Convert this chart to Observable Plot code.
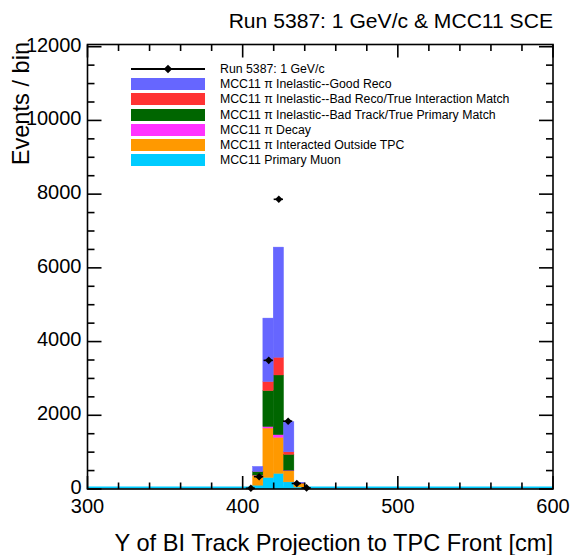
<!DOCTYPE html>
<html>
<head>
<meta charset="utf-8">
<script src="https://cdn.jsdelivr.net/npm/d3@7"></script>
<script src="https://cdn.jsdelivr.net/npm/@observablehq/plot@0.6"></script>
<style>
  html, body { margin: 0; padding: 0; background: #fff; }
  #chart { position: relative; width: 572px; height: 555px; overflow: hidden;
           font-family: "Liberation Sans", Arial, Helvetica, sans-serif; color: #000; }
  #chart svg { position: absolute; left: 0; top: 0; }
  .lbl { position: absolute; white-space: nowrap; line-height: 1; }
  .leg-row { position: absolute; left: 0; height: 12px; }
  .leg-sw { position: absolute; left: 131px; width: 74px; height: 12px; top: 0; }
  .leg-tx { position: absolute; left: 220px; top: 0; font-size: 12.3px; line-height: 12px; white-space: nowrap; }
</style>
</head>
<body>
<div id="chart"></div>
<script>
// Binning: 45 bins over 300–600 cm, only the populated ones are listed
const binLow = [400, 406.667, 413.333, 420, 426.667, 433.333];
const binWidth = 6.667;

// MC categories, stacked from the bottom up
const seriesNames = [
  "MCC11 Primary Muon",
  "MCC11 π Interacted Outside TPC",
  "MCC11 π Decay",
  "MCC11 π Inelastic--Bad Track/True Primary Match",
  "MCC11 π Inelastic--Bad Reco/True Interaction Match",
  "MCC11 π Inelastic--Good Reco"
];
const seriesColors = ["#00ccff", "#ff9900", "#ff33ff", "#006600", "#ff3333", "#6666ff"];

// Events per bin for each category
const primaryMuon   = [0,  90,  300,  410, 180, 40];
const outsideTPC    = [0, 270, 1340,  980, 300, 90];
const piDecay       = [0,   5,   40,   70,  15,  5];
const badTrack      = [0,  90,  975, 1620, 430, 10];
const badReco       = [0,   5,  245,  480,  70,  5];
const goodReco      = [0, 140, 1724, 2990, 817, 20];
const seriesValues = [primaryMuon, outsideTPC, piDecay, badTrack, badReco, goodReco];

// Run 5387 data points
const dataLabel = "Run 5387: 1 GeV/c";
const dataX = [405.3, 410.6, 416.8, 423.3, 429.3, 434.9, 441.2];
const dataY = [20, 335, 3490, 7860, 1840, 150, 30];
const dataXErr = 3;

// Axis ticks
const xMajor = [300, 400, 500, 600];
const xMinor = [320, 340, 360, 380, 420, 440, 460, 480, 520, 540, 560, 580];
const yMajor = [0, 2000, 4000, 6000, 8000, 10000, 12000];
const yMinor = [500, 1000, 1500, 2500, 3000, 3500, 4500, 5000, 5500, 6500, 7000, 7500,
                8500, 9000, 9500, 10500, 11000, 11500];

const titleText = "Run 5387: 1 GeV/c & MCC11 SCE";
const xTitle = "Y of BI Track Projection to TPC Front [cm]";
const yTitle = "Events / bin";

// Flatten into one table for the stacked histogram
const rows = [];
seriesNames.forEach((name, s) => {
  binLow.forEach((lo, i) => {
    rows.push({series: name, x1: lo, x2: lo + binWidth, v: seriesValues[s][i]});
  });
});
const points = dataX.map((x, i) => ({x, v: dataY[i]}));

// Tick marks drawn inward from the frame
const tickSym = (dx, dy) => ({draw(ctx) { ctx.moveTo(0, 0); ctx.lineTo(dx, dy); }});
const tickStyle = {stroke: "black", strokeWidth: 1.6, fill: "none"};

const plot = Plot.plot({
  width: 572,
  height: 555,
  marginLeft: 87,
  marginRight: 19.5,
  marginTop: 44,
  marginBottom: 66.5,
  style: {fontFamily: "'Liberation Sans', Arial, Helvetica, sans-serif", background: "transparent"},
  x: {domain: [300, 600]},
  y: {domain: [0, 12060]},
  color: {domain: seriesNames, range: seriesColors},
  marks: [
    Plot.ruleY([0], {stroke: seriesColors[0], strokeWidth: 2, dy: -1.5}),
    Plot.rectY(rows, {x1: "x1", x2: "x2", y: "v", fill: "series", stroke: "series",
                      strokeWidth: 0.4, order: seriesNames}),
    Plot.ruleY(points, {y: "v", x1: d => d.x - dataXErr, x2: d => d.x + dataXErr,
                        stroke: "black", strokeWidth: 1.6}),
    Plot.dot(points, {x: "x", y: "v", symbol: "diamond2", r: 3.4, fill: "black"}),
    Plot.frame({stroke: "black", strokeWidth: 1.6}),
    // bottom / top ticks
    Plot.dot(xMajor, {x: d => d, frameAnchor: "bottom", symbol: tickSym(0, -13), ...tickStyle}),
    Plot.dot(xMinor, {x: d => d, frameAnchor: "bottom", symbol: tickSym(0, -6.5), ...tickStyle}),
    Plot.dot(xMajor, {x: d => d, frameAnchor: "top", symbol: tickSym(0, 13), ...tickStyle}),
    Plot.dot(xMinor, {x: d => d, frameAnchor: "top", symbol: tickSym(0, 6.5), ...tickStyle}),
    // left / right ticks
    Plot.dot(yMajor, {y: d => d, frameAnchor: "left", symbol: tickSym(14, 0), ...tickStyle}),
    Plot.dot(yMinor, {y: d => d, frameAnchor: "left", symbol: tickSym(7, 0), ...tickStyle}),
    Plot.dot(yMajor, {y: d => d, frameAnchor: "right", symbol: tickSym(-14, 0), ...tickStyle}),
    Plot.dot(yMinor, {y: d => d, frameAnchor: "right", symbol: tickSym(-7, 0), ...tickStyle}),
    // tick labels
    Plot.axisX({ticks: xMajor, tickSize: 0, tickPadding: 10, fontSize: 20, label: null, tickFormat: "d"}),
    Plot.axisY({ticks: yMajor, tickSize: 0, tickPadding: 6, fontSize: 20, label: null, tickFormat: "d", dy: -1.5})
  ]
});

const chart = document.getElementById("chart");
chart.appendChild(plot);

function addLabel(text, css) {
  const el = document.createElement("div");
  el.className = "lbl";
  el.textContent = text;
  Object.assign(el.style, css);
  chart.appendChild(el);
  return el;
}

// Titles
addLabel(titleText, {right: "19px", top: "10px", fontSize: "21.1px"});
addLabel(xTitle, {right: "19px", top: "532px", fontSize: "23.6px"});
addLabel(yTitle, {left: "0px", top: "0px", width: "200px", textAlign: "right", fontSize: "23.6px",
                  transformOrigin: "0 0", transform: "translate(10px, 242px) rotate(-90deg)"});

// Legend: data entry first, then the MC categories top to bottom
const legendTop = 63;
const legendStep = 15.17;
const dataRow = document.createElement("div");
dataRow.className = "leg-row";
dataRow.style.top = legendTop + "px";
dataRow.innerHTML =
  `<div style="position:absolute;left:131px;width:74px;top:5px;height:2px;background:#000"></div>` +
  `<div style="position:absolute;left:164.5px;top:2.5px;width:6px;height:6px;background:#000;transform:rotate(45deg)"></div>` +
  `<div class="leg-tx">${dataLabel}</div>`;
chart.appendChild(dataRow);

seriesNames.slice().reverse().forEach((name, k) => {
  const color = seriesColors[seriesNames.indexOf(name)];
  const row = document.createElement("div");
  row.className = "leg-row";
  row.style.top = (legendTop + (k + 1) * legendStep) + "px";
  row.innerHTML = `<div class="leg-sw" style="background:${color}"></div><div class="leg-tx">${name}</div>`;
  chart.appendChild(row);
});
</script>
</body>
</html>
